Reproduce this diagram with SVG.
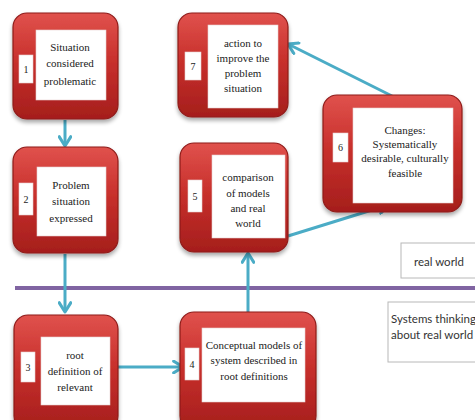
<svg xmlns="http://www.w3.org/2000/svg" width="475" height="420" viewBox="0 0 475 420">
<defs>
<linearGradient id="red" x1="0" y1="0" x2="0" y2="1">
<stop offset="0" stop-color="#e0524d"/>
<stop offset="0.45" stop-color="#c8302c"/>
<stop offset="1" stop-color="#a51e1c"/>
</linearGradient>
<filter id="sh" x="-10%" y="-10%" width="125%" height="130%">
<feGaussianBlur in="SourceAlpha" stdDeviation="2"/>
<feOffset dx="0" dy="3" result="b"/>
<feComponentTransfer><feFuncA type="linear" slope="0.35"/></feComponentTransfer>
<feMerge><feMergeNode/><feMergeNode in="SourceGraphic"/></feMerge>
</filter>
<marker id="ah" viewBox="0 0 12 12" refX="10" refY="6" markerWidth="14" markerHeight="14" markerUnits="userSpaceOnUse" orient="auto">
<path d="M2,1 L10,6 L2,11" fill="none" stroke="#4bacc6" stroke-width="2.6" stroke-linecap="round" stroke-linejoin="round"/>
</marker>
</defs>
<style>
.box{fill:url(#red);stroke:#8e1c1a;stroke-width:1.2;filter:url(#sh)}
.wb{fill:#ffffff;stroke:#e6d0d0;stroke-width:0.6}
.t{font-size:11px;fill:#222;text-anchor:middle}
.n{font-size:10px;fill:#222;text-anchor:middle}
.s{font-family:Lato,'Liberation Sans',sans-serif;font-size:11.5px;fill:#333}
.c{stroke:#4bacc6;stroke-width:3;fill:none;marker-end:url(#ah)}
.lab{fill:#fff;stroke:#b8b8b8;stroke-width:1}
</style>

<line x1="15" y1="288" x2="475" y2="288" stroke="#8064a2" stroke-width="4"/>

<g id="label-real">
<rect class="lab" x="401" y="243" width="80" height="35"/>
<text class="s" x="439" y="266" text-anchor="middle">real world</text>
</g>
<g id="label-systems">
<rect class="lab" x="388" y="302" width="95" height="60"/>
<text class="s" x="391" y="323">Systems thinking</text>
<text class="s" x="391" y="339">about real world</text>
</g>

<g id="connectors">
<line class="c" x1="65" y1="120" x2="65" y2="146"/>
<line class="c" x1="65" y1="254" x2="65" y2="312"/>
<line class="c" x1="118" y1="367" x2="183" y2="367"/>
<line class="c" x1="248" y1="312" x2="248" y2="253"/>
<line class="c" x1="288" y1="236" x2="388" y2="205"/>
<line class="c" x1="392" y1="96" x2="288" y2="44"/>
</g>

<g font-family="Liberation Serif, Times New Roman, Noto Serif, DejaVu Serif, serif">
<g id="node1">
<rect class="box" x="13" y="13" width="105" height="106" rx="14"/>
<rect class="wb" x="36" y="30" width="70" height="70"/>
<rect class="wb" x="19" y="55" width="14" height="28"/>
<text class="n" x="26" y="73">1</text>
<text class="t" x="70" y="51">Situation</text>
<text class="t" x="70" y="67">considered</text>
<text class="t" x="70" y="85">problematic</text>
</g>

<g id="node2">
<rect class="box" x="13" y="147" width="105" height="106" rx="14"/>
<rect class="wb" x="37" y="167" width="69" height="69"/>
<rect class="wb" x="19" y="183" width="14" height="32"/>
<text class="n" x="26" y="203">2</text>
<text class="t" x="71" y="189">Problem</text>
<text class="t" x="71" y="205">situation</text>
<text class="t" x="71" y="222">expressed</text>
</g>

<g id="node3">
<rect class="box" x="14" y="315" width="104" height="115" rx="14"/>
<rect class="wb" x="41" y="337" width="69" height="68"/>
<rect class="wb" x="21" y="352" width="14" height="30"/>
<text class="n" x="28" y="371">3</text>
<text class="t" x="75" y="359">root</text>
<text class="t" x="75" y="375">definition  of</text>
<text class="t" x="75" y="391">relevant</text>
</g>

<g id="node4">
<rect class="box" x="180" y="312" width="136" height="118" rx="14"/>
<rect class="wb" x="202" y="328" width="103" height="74"/>
<rect class="wb" x="185" y="348" width="14" height="32"/>
<text class="n" x="192" y="368">4</text>
<text class="t" x="254" y="349">Conceptual models of</text>
<text class="t" x="254" y="364">system described in</text>
<text class="t" x="254" y="380">root definitions</text>
</g>

<g id="node5">
<rect class="box" x="180" y="143" width="108" height="109" rx="14"/>
<rect class="wb" x="212" y="155" width="73" height="83"/>
<rect class="wb" x="188" y="180" width="14" height="32"/>
<text class="n" x="195" y="200">5</text>
<text class="t" x="248" y="181">comparison</text>
<text class="t" x="248" y="197">of models</text>
<text class="t" x="248" y="212">and real</text>
<text class="t" x="248" y="227">world</text>
</g>

<g id="node7">
<rect class="box" x="178" y="13" width="110" height="104" rx="14"/>
<rect class="wb" x="208" y="25" width="70" height="83"/>
<rect class="wb" x="185" y="52" width="16" height="28"/>
<text class="n" x="193" y="70">7</text>
<text class="t" x="243" y="47">action to</text>
<text class="t" x="243" y="62">improve the</text>
<text class="t" x="243" y="77">problem</text>
<text class="t" x="243" y="92">situation</text>
</g>

<g id="node6">
<rect class="box" x="323" y="95" width="139" height="117" rx="14"/>
<rect class="wb" x="353" y="108" width="100" height="95"/>
<rect class="wb" x="333" y="133" width="15" height="29"/>
<text class="n" x="340.5" y="151">6</text>
<text class="t" x="405" y="134">Changes:</text>
<text class="t" x="405" y="148">Systematically</text>
<text class="t" x="405" y="162">desirable, culturally</text>
<text class="t" x="405" y="177">feasible</text>
</g>
</g>
</svg>
